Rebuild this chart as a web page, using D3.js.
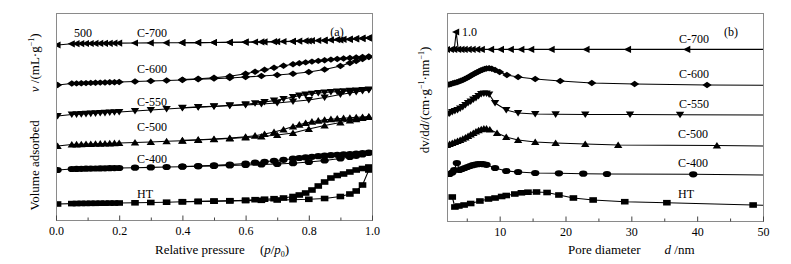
<!DOCTYPE html>
<html><head><meta charset="utf-8">
<script src="https://cdn.jsdelivr.net/npm/d3@7"></script>
<style>
body{margin:0;background:#fff;}
svg text{font-family:"Liberation Serif","Times New Roman",serif;fill:#000;}
</style></head>
<body><svg id="c" width="791" height="264"></svg>
<script>
// ---------- Panel (a): N2 isotherms (stacked, arbitrary offset units) ----------
const P_ADS = [0.005,0.05,0.065,0.08,0.095,0.11,0.125,0.14,0.155,0.17,0.185,0.2,0.25,0.3,0.35,0.4,0.45,0.5,0.55,0.6,0.65,0.7,0.75,0.8,0.85,0.9,0.93,0.95,0.97,0.99];
const P_DES = [0.99,0.97,0.95,0.93,0.91,0.89,0.87,0.85,0.83,0.81,0.79,0.77,0.75,0.72,0.69,0.66,0.63,0.6,0.55,0.5,0.45,0.4];

const HT_ADS = [16,16.4,16.5,16.6,16.6,16.7,16.7,16.8,16.8,16.9,16.9,17,17.2,17.5,17.8,18.2,18.5,18.8,19.1,19.4,19.7,20,20.3,20.7,21.5,23.5,26,29,35,50];
const HT_DES = [53,51.5,50,48,46,44.5,42,38,34,30,27,25,23.5,22,21.3,20.8,20.3,19.8,19.3,18.9,18.6,18.3];
const C400_ADS = [50,51,51.1,51.2,51.3,51.4,51.5,51.6,51.7,51.8,51.9,52,52.3,52.6,53,53.3,53.7,54.1,54.5,55,55.5,56,56.8,58,59.5,61.5,63,64.2,65.5,67];
const C400_DES = [67.5,67,66.5,66,65.6,65.2,64.8,64.3,63.8,63.2,62.6,62,61.3,60.2,59.2,58.2,57.3,56.5,55.4,54.6,54,53.5];
const C500_ADS = [74,75.5,75.6,75.7,75.9,76,76.2,76.3,76.5,76.6,76.8,77,77.5,78,78.7,79.3,80,80.7,81.5,82.5,83.5,85,87,91,94.5,97.5,99.5,100.8,102,103];
const C500_DES = [103.5,103,102.6,102.2,101.8,101.3,100.8,100.2,99.3,98.3,97,95.3,93.5,90.5,88,86,84.3,83.2,81.9,81,80.3,79.6];
const C550_ADS = [104,105.5,105.7,105.9,106.2,106.4,106.7,107,107.2,107.5,107.8,108,109,110,111,112,112.8,113.5,114.3,115,116,117,118.5,120,122.5,125.5,127,128,129,130];
const C550_DES = [130.5,130,129.6,129.2,128.8,128.4,128,127.5,127,126.3,125.4,124.4,123,121,119.4,118,116.8,115.8,114.7,113.8,113.1,112.3];
const C600_ADS = [135,136.5,136.6,136.8,136.9,137.1,137.2,137.4,137.5,137.7,137.8,138,138.5,139,139.5,140,140.7,141.4,142,143,144,145,146.3,148,150.5,154,157,159,161,163];
const C600_DES = [163.5,163,162.5,162,161.5,161,160.4,159.8,159.1,158.4,157.6,156.7,155.8,154.2,152.3,150.3,148.2,146.3,143.8,142.2,141.2,140.4];
const C700_ADS = [175,176.2,176.3,176.4,176.5,176.5,176.6,176.6,176.7,176.7,176.8,176.9,177,177.1,177.2,177.3,177.4,177.5,177.7,177.9,178.1,178.3,178.6,179,179.4,180,180.5,181,181.4,182];
const C700_DES = [182.2,181.8,181.4,181,180.7,180.4,180.1,179.8,179.5,179.3,179.1,178.9,178.7,178.5,178.3,178.1,178,177.8,177.6,177.5,177.4,177.3];

const X_TICKS_A = [0, 0.2, 0.4, 0.6, 0.8, 1.0];
const X_MINOR_A = [0.1, 0.3, 0.5, 0.7, 0.9];

// ---------- Panel (b): pore size distributions (stacked) ----------
const C700_D = [2.0,2.6,3.1,3.4,3.7,4.2,4.7,5.3,5.9,6.6,7.3,8.7,10.2,11.7,13.3,14.8,17.9,23.2,29.5,38.5,51];
const C700_V = [171.5,171.5,171.6,189,171.6,171.6,171.6,171.6,171.6,171.6,171.6,171.6,171.6,171.6,171.6,171.6,171.6,171.6,171.6,171.6,171.6];
const C600_D = [2.0,2.3,2.6,2.9,3.2,3.5,3.8,4.1,4.4,4.7,5.0,5.3,5.6,5.9,6.2,6.5,6.8,7.1,7.4,7.7,8.0,8.4,8.8,9.3,10.0,11.1,12.8,15.4,19.2,24.0,30.5,41.5,51];
const C600_V = [136,136.5,137,137.7,138.2,138.8,139.5,140.2,141,142,143,144,145.2,146.4,147.5,148.5,149.5,150.5,151.3,152,152.5,152.7,152.2,151,149,146,144,142,140,138,137,136,135.7];
const C550_D = [2.0,2.4,2.8,3.2,3.6,4.0,4.4,4.8,5.2,5.6,6.0,6.4,6.8,7.2,7.6,8.0,8.4,9.3,11.0,12.8,15.4,18.5,23.0,29.8,37.4,51];
const C550_V = [106,107.5,109,110,111,112.5,114,116,118,119.5,121.5,123,125,127,127.5,127.5,126.5,118,111,108,107,106.7,106.5,106.5,106.3,106];
const C500_D = [2.0,2.4,2.8,3.2,3.6,4.0,4.4,4.8,5.2,5.6,6.0,6.4,6.8,7.2,7.6,8.0,8.5,9.6,11.0,12.8,15.4,18.5,23.0,28.0,43.0,51];
const C500_V = [76,77,78,79,80,81,82.2,83.5,85,86.5,88,89.5,90.7,91.7,92.3,92.3,91.5,88,84,81,79,78,77,76,75.5,75];
const C400_D = [2.4,2.8,3.1,3.5,3.9,4.3,4.7,5.1,5.5,5.9,6.3,6.7,7.1,7.5,8.0,9.3,11.0,12.8,15.4,19.0,22.7,26.3,39.4,51];
const C400_V = [47,48.5,51,58,51,52,53,54,55,55.8,56.4,56.8,57,56.8,56.2,53,50,49,48,47.7,47.3,47,46.7,46];
const HT_D = [2.8,3.2,3.8,4.6,5.6,7.0,8.3,9.3,10.3,11.0,12.3,13.3,14.3,15.6,17.2,19.0,21.2,24.2,29.0,35.4,48.5,51];
const HT_V = [24,14,15,16,17.5,20,22,23,24.5,25.5,27,28.2,28.8,29,28.5,26,23,21,19.3,18.3,16,15.7];

const X_TICKS_B = [10, 20, 30, 40, 50];
const X_MINOR_B = [5, 15, 25, 35, 45];

// ---------- Drawing ----------
const svg = d3.select("#c");
const markers = {
  left:  "M-4.2,0L3,-3.6L3,3.6Z",
  diamond: "M-4.6,0L0,-3.2L4.6,0L0,3.2Z",
  down: "M-4.2,-3L4.2,-3L0,3.6Z",
  up: "M-4.2,3L4.2,3L0,-3.6Z",
  ellipse: "M-4.2,0A4.2,3.1 0 1,0 4.2,0A4.2,3.1 0 1,0 -4.2,0Z",
  square: "M-3.8,-2.8H3.8V2.8H-3.8Z"
};

function panel(cfg) {
  const g = svg.append("g");
  const x = d3.scaleLinear().domain(cfg.xd).range([cfg.x0, cfg.x1]);
  const y = d3.scaleLinear().domain(cfg.yd).range([cfg.y1, cfg.y0]);
  const cid = "clip" + cfg.id;
  svg.append("clipPath").attr("id", cid).append("rect")
    .attr("x", cfg.x0).attr("y", cfg.y0).attr("width", cfg.x1 - cfg.x0).attr("height", cfg.y1 - cfg.y0);
  const plot = g.append("g").attr("clip-path", `url(#${cid})`);
  const line = d3.line().x(d => x(d[0])).y(d => y(d[1]));
  cfg.series.forEach(s => {
    s.parts.forEach(pts => {
      plot.append("path").attr("d", line(pts)).attr("fill", "none").attr("stroke", "#000").attr("stroke-width", 1.1);
      plot.selectAll(null).data(pts).enter().append("path")
        .attr("d", markers[s.m]).attr("fill", "#000")
        .attr("transform", d => `translate(${x(d[0])},${y(d[1])})`);
    });
  });
  // frame
  g.append("rect").attr("x", cfg.x0 + 0.5).attr("y", cfg.y0 + 0.5)
    .attr("width", cfg.x1 - cfg.x0).attr("height", cfg.y1 - cfg.y0)
    .attr("fill", "none").attr("stroke", "#8a8a8a").attr("stroke-width", 1);
  // axes
  const ax = g.append("g").attr("transform", `translate(0,${cfg.y1 + 0.5})`)
    .call(d3.axisBottom(x).tickValues(cfg.ticks).tickSizeInner(-5).tickSizeOuter(0).tickPadding(6).tickFormat(cfg.fmt));
  ax.select(".domain").remove();
  ax.selectAll("line").attr("stroke", "#444");
  ax.selectAll("text").attr("font-size", 12).attr("font-family", "Liberation Serif");
  const mn = g.append("g").attr("transform", `translate(0,${cfg.y1 + 0.5})`)
    .call(d3.axisBottom(x).tickValues(cfg.minor).tickSizeInner(-3).tickSizeOuter(0).tickFormat(""));
  mn.select(".domain").remove();
  mn.selectAll("line").attr("stroke", "#444");
  // labels
  cfg.labels.forEach(l => {
    g.append("text").attr("x", l[1]).attr("y", l[2]).attr("text-anchor", l[3] || "middle")
      .attr("font-size", 12).text(l[0]);
  });
  return {x, y, g};
}

function zip(xs, ys) { return xs.map((v, i) => [v, ys[i]]); }

panel({
  id: "a", xd: [0, 1], yd: [0, 207], x0: 56, x1: 372, y0: 13, y1: 220,
  ticks: X_TICKS_A, minor: X_MINOR_A, fmt: d3.format(".1f"),
  series: [
    {m: "square", parts: [zip(P_ADS, HT_ADS), zip(P_DES, HT_DES)]},
    {m: "ellipse", parts: [zip(P_ADS, C400_ADS), zip(P_DES, C400_DES)]},
    {m: "up", parts: [zip(P_ADS, C500_ADS), zip(P_DES, C500_DES)]},
    {m: "down", parts: [zip(P_ADS, C550_ADS), zip(P_DES, C550_DES)]},
    {m: "diamond", parts: [zip(P_ADS, C600_ADS), zip(P_DES, C600_DES)]},
    {m: "left", parts: [zip(P_ADS, C700_ADS), zip(P_DES, C700_DES)]}
  ],
  labels: [["500", 83, 37], ["C-700", 152, 37], ["C-600", 152, 73], ["C-550", 152, 106],
           ["C-500", 152, 131], ["C-400", 152, 163], ["HT", 145, 198], ["(a)", 337, 36]]
});

panel({
  id: "b", xd: [2, 50], yd: [0, 208], x0: 447, x1: 763, y0: 13, y1: 221,
  ticks: X_TICKS_B, minor: X_MINOR_B, fmt: d3.format("d"),
  series: [
    {m: "square", parts: [zip(HT_D, HT_V)]},
    {m: "ellipse", parts: [zip(C400_D, C400_V)]},
    {m: "up", parts: [zip(C500_D, C500_V)]},
    {m: "down", parts: [zip(C550_D, C550_V)]},
    {m: "diamond", parts: [zip(C600_D, C600_V)]},
    {m: "left", parts: [zip(C700_D, C700_V)]}
  ],
  labels: [["1.0", 462, 36, "start"], ["C-700", 694, 43], ["(b)", 731, 36], ["C-600", 694, 78],
           ["C-550", 694, 108], ["C-500", 693, 138], ["C-400", 693, 167], ["HT", 686, 198]]
});

// rich text helper
function rich(sel, parts) {
  parts.forEach(p => {
    const t = sel.append("tspan").text(p.t);
    if (p.i) t.attr("font-style", "italic");
    if (p.dx) t.attr("dx", p.dx);
    if (p.sup) t.attr("font-size", 8).attr("dy", -5);
    if (p.sub) t.attr("font-size", 8).attr("dy", 3);
    if (p.back) t.attr("dy", p.back);
  });
}

// axis titles
rich(svg.append("text").attr("x", 155).attr("y", 254).attr("font-size", 13), [
  {t: "Relative pressure"}, {t: "(", dx: 15}, {t: "p", i: true}, {t: "/"}, {t: "p", i: true}, {t: "0", sub: true}, {t: ")", back: -3}
]);
rich(svg.append("text").attr("x", 568).attr("y", 254).attr("font-size", 13), [
  {t: "Pore diameter"}, {t: "d", i: true, dx: 24}, {t: " /nm"}
]);
rich(svg.append("text").attr("transform", "translate(39,122) rotate(-90)").attr("text-anchor", "middle").attr("font-size", 13), [
  {t: "Volume adsorbed"}, {t: "v", i: true, dx: 28}, {t: " /(mL·g"}, {t: "−1", sup: true}, {t: ")", back: 5}
]);
rich(svg.append("text").attr("transform", "translate(429,100) rotate(-90)").attr("text-anchor", "middle").attr("font-size", 13), [
  {t: "dv/d"}, {t: "d", i: true}, {t: "/(cm·g"}, {t: "−1", sup: true}, {t: "·nm", back: 5}, {t: "−1", sup: true}, {t: ")", back: 5}
]);
</script></body></html>
